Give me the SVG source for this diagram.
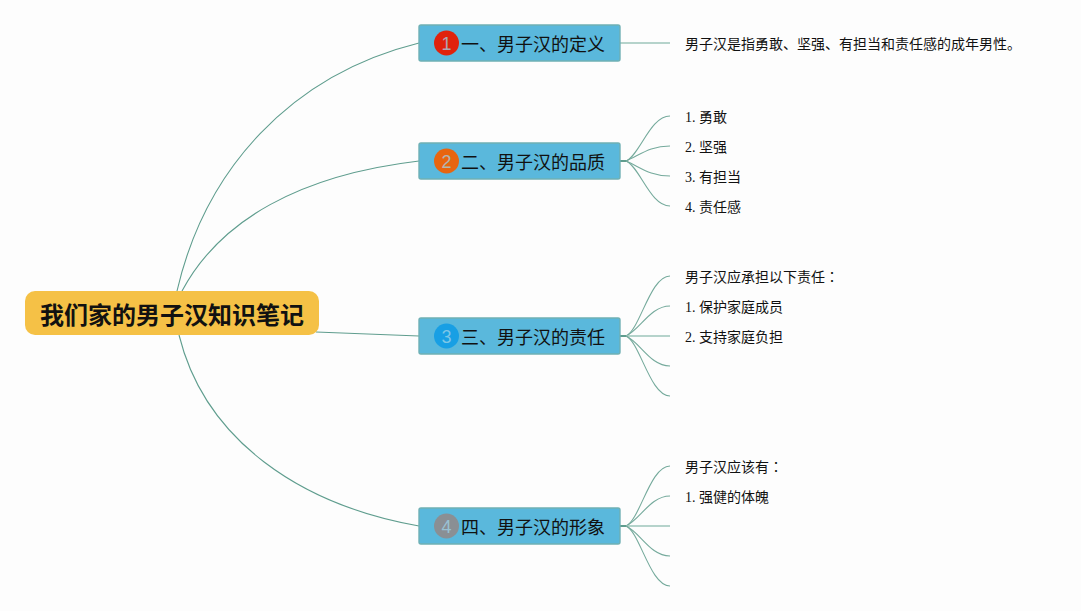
<svg xmlns="http://www.w3.org/2000/svg" width="1081" height="611" viewBox="0 0 1081 611">
<style>
.bg{fill:#fdfdfd}
.c{fill:none;stroke:#5f9d8e;stroke-width:1.1}
.f{fill:none;stroke:#75aa9c;stroke-width:1.1}
.l{fill:none;stroke:#9cc5ba;stroke-width:1.4}
.s{fill:none;stroke:#5f9d8e;stroke-width:2}
.b{fill:#5ab8dc;stroke:#6fb0b4;stroke-width:1.4}
.t{font-family:"Noto Sans CJK SC","Liberation Sans",sans-serif;font-size:18px;fill:#111}
.n{font-family:"Liberation Sans",sans-serif;font-size:18px;text-anchor:middle;fill:#9fd4e8;fill-opacity:.75}
.d{font-family:"Liberation Serif","Noto Sans CJK SC",serif;font-size:14px;fill:#111}
.q{font-family:"Noto Sans CJK TC",sans-serif}
.r{font-family:"Noto Sans CJK SC","Liberation Sans",sans-serif;font-size:24px;font-weight:700;fill:#111}
</style>
<rect class="bg" width="1081" height="611"/>
<g id="connectors">
<path class="c" d="M177 291C205 170 290 75 419 43"/>
<path class="c" d="M182 291C220 220 300 175 419 161"/>
<path class="c" d="M316 332L419 336"/>
<path class="c" d="M179 335C205 440 300 505 419 526"/>
<path class="l" d="M620 43H670"/>
<g id="c2">
<path class="s" d="M620 161H627"/>
<path class="f" d="M626 161C640 155 650 116 670 116"/>
<path class="f" d="M626 161C640 155 650 146 670 146"/>
<path class="f" d="M626 161C640 167 650 176 670 176"/>
<path class="f" d="M626 161C640 167 650 206 670 206"/>
</g>
<g id="c3">
<path class="s" d="M620 336H627"/>
<path class="f" d="M626 336C640 330 650 276 670 276"/>
<path class="f" d="M626 336C640 330 650 306 670 306"/>
<path class="l" d="M626 336H670"/>
<path class="f" d="M626 336C640 342 650 366 670 366"/>
<path class="f" d="M626 336C640 342 650 396 670 396"/>
</g>
<g id="c4">
<path class="s" d="M620 526H627"/>
<path class="f" d="M626 526C640 520 650 466 670 466"/>
<path class="f" d="M626 526C640 520 650 496 670 496"/>
<path class="l" d="M626 526H670"/>
<path class="f" d="M626 526C640 532 650 556 670 556"/>
<path class="f" d="M626 526C640 532 650 586 670 586"/>
</g>
</g>
<g id="root">
<rect x="25" y="291" width="294" height="44" rx="10" fill="#f5c146"/>
<text class="r" x="40" y="324">我们家的男子汉知识笔记</text>
</g>
<g id="n1">
<rect class="b" x="419" y="25" width="201" height="36" rx="2"/>
<circle cx="446.500" cy="43" r="12.500" fill="#e0220c"/>
<text class="n" x="446.500" y="49.500">1</text>
<text class="t" x="461" y="51">一、男子汉的定义</text>
</g>
<g id="n2">
<rect class="b" x="419" y="143" width="201" height="36" rx="2"/>
<circle cx="446.500" cy="161" r="12.500" fill="#e8650f"/>
<text class="n" x="446.500" y="167.500">2</text>
<text class="t" x="461" y="169">二、男子汉的品质</text>
</g>
<g id="n3">
<rect class="b" x="419" y="318" width="201" height="36" rx="2"/>
<circle cx="446.500" cy="336" r="12.500" fill="#189fe4"/>
<text class="n" x="446.500" y="342.500">3</text>
<text class="t" x="461" y="344">三、男子汉的责任</text>
</g>
<g id="n4">
<rect class="b" x="419" y="508" width="201" height="36" rx="2"/>
<circle cx="446.500" cy="526" r="12.500" fill="#8a8f94"/>
<text class="n" x="446.500" y="532.500">4</text>
<text class="t" x="461" y="534">四、男子汉的形象</text>
</g>
<g id="leaf1"><text class="d" x="685" y="49">男子汉是指勇敢、坚强、有担当和责任感的成年男性。</text></g>
<g id="leaf2a"><text class="d" x="685" y="122">1. 勇敢</text></g>
<g id="leaf2b"><text class="d" x="685" y="152">2. 坚强</text></g>
<g id="leaf2c"><text class="d" x="685" y="182">3. 有担当</text></g>
<g id="leaf2d"><text class="d" x="685" y="212">4. 责任感</text></g>
<g id="leaf3a"><text class="d" x="685" y="282">男子汉应承担以下责任<tspan class="q">：</tspan></text></g>
<g id="leaf3b"><text class="d" x="685" y="312">1. 保护家庭成员</text></g>
<g id="leaf3c"><text class="d" x="685" y="342">2. 支持家庭负担</text></g>
<g id="leaf4a"><text class="d" x="685" y="472">男子汉应该有<tspan class="q">：</tspan></text></g>
<g id="leaf4b"><text class="d" x="685" y="502">1. 强健的体魄</text></g>
</svg>
